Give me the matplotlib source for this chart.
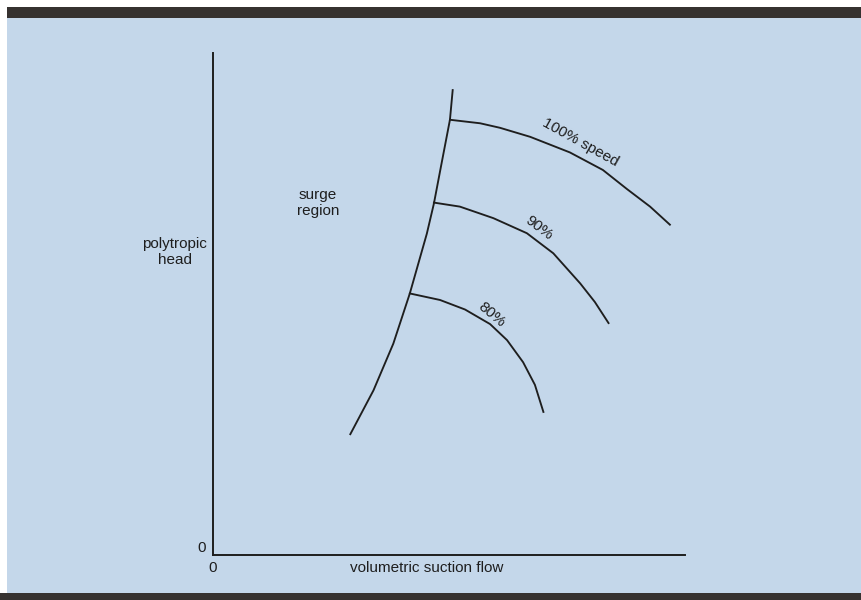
import matplotlib
matplotlib.use("Agg")
import matplotlib.pyplot as plt
from matplotlib.patches import Rectangle

# Compressor map: surge line and constant-speed characteristics
# (flow and head in arbitrary units, 0-100)
surge_flow = [29.0, 34.0, 38.2, 41.7, 45.3, 46.8, 48.3, 50.2, 50.8]
surge_head = [23.9, 32.8, 42.1, 52.1, 64.0, 70.0, 77.4, 86.7, 92.8]

speed100_flow = [50.2, 56.6, 60.8, 67.2, 75.6, 82.6, 87.7, 92.6, 96.8]
speed100_head = [86.7, 86.0, 85.1, 83.3, 80.2, 76.7, 72.9, 69.4, 65.8]

speed90_flow = [46.8, 52.3, 59.4, 66.5, 72.1, 77.8, 80.9, 83.8]
speed90_head = [70.2, 69.4, 67.1, 64.1, 60.1, 54.1, 50.4, 46.2]

speed80_flow = [41.7, 48.1, 53.4, 58.7, 62.3, 65.7, 68.2, 70.0]
speed80_head = [52.1, 50.8, 48.9, 46.0, 42.8, 38.4, 33.9, 28.5]

speed_labels = ["100% speed", "90%", "80%"]
label_flow = [77.8, 69.1, 59.1]
label_head = [82.2, 65.2, 47.9]
label_angle = [-29, -37, -40]

BG = "#c4d7ea"
DARK = "#363230"
INK = "#1e1e1e"
FS = 11

fig = plt.figure(figsize=(8.62, 6.0), dpi=100)
fig.patch.set_facecolor("white")

# page background and dark bands (drawn beneath the axes)
for (x0, y0, w, h, c) in [(7 / 862, 7 / 600, 1 - 7 / 862, 575 / 600, BG),
                          (7 / 862, 582 / 600, 1 - 7 / 862, 11 / 600, DARK),
                          (0, 0, 1, 7 / 600, DARK)]:
    fig.patches.append(Rectangle((x0, y0), w, h, transform=fig.transFigure,
                                 facecolor=c, edgecolor="none", zorder=-5))

ax = fig.add_axes([213 / 862, 45 / 600, 472 / 862, 502 / 600])
ax.set_zorder(1)
ax.set_facecolor("none")
ax.set_xlim(0, 100)
ax.set_ylim(0, 100)
for side in ("top", "right"):
    ax.spines[side].set_visible(False)
for side in ("left", "bottom"):
    ax.spines[side].set_linewidth(1.4)
    ax.spines[side].set_color(INK)

font = dict(family=["Liberation Sans", "DejaVu Sans"], color=INK)

ax.set_xticks([0])
ax.set_yticks([0])
ax.set_xticklabels(["0"], fontsize=FS, **font)
ax.set_yticklabels(["0"], fontsize=FS, **font)
ax.tick_params(axis="both", length=0)
ax.tick_params(axis="x", pad=4)
ax.tick_params(axis="y", pad=5)
for t in ax.get_yticklabels():
    t.set_verticalalignment("bottom")

lw = 1.35
ax.plot(surge_flow, surge_head, color=INK, lw=lw, solid_capstyle="butt",
        solid_joinstyle="round")
for fx, fy in [(speed100_flow, speed100_head),
               (speed90_flow, speed90_head),
               (speed80_flow, speed80_head)]:
    ax.plot(fx, fy, color=INK, lw=lw, solid_joinstyle="round")

for txt, fx, fy, ang in zip(speed_labels, label_flow, label_head, label_angle):
    ax.text(fx, fy, txt, rotation=ang, rotation_mode="anchor",
            ha="center", va="center", fontsize=FS, **font)

ax.text(22.2, 70.1, "surge\nregion", ha="center", va="center",
        fontsize=FS, linespacing=1.2, **font)
ax.text(-8.1, 60.4, "polytropic\nhead", ha="center", va="center",
        fontsize=FS, linespacing=1.2, **font)
ax.text(45.3, -2.6, "volumetric suction flow", ha="center", va="center",
        fontsize=FS, **font)

fig.savefig("out.png", dpi=100, facecolor=fig.get_facecolor())
